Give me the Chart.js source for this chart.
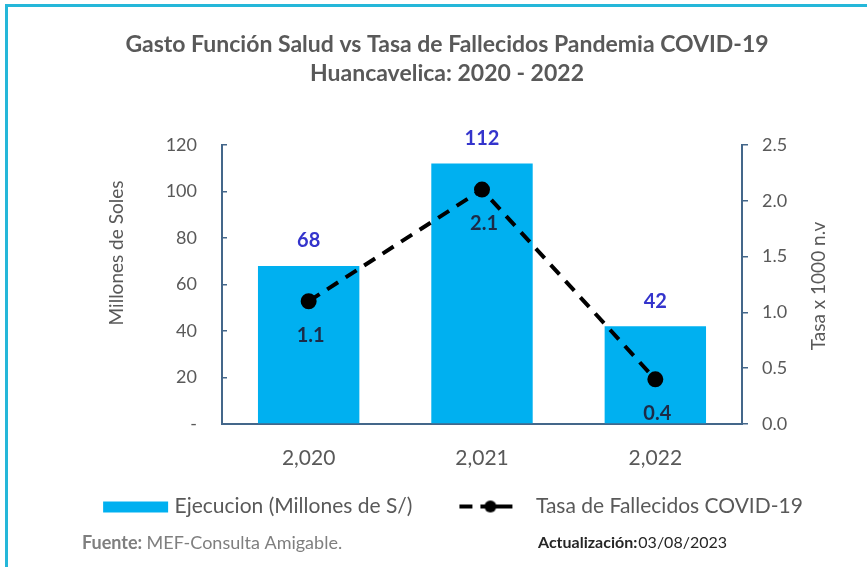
<!DOCTYPE html>
<html lang="es">
<head>
<meta charset="UTF-8">
<meta name="viewport" content="width=device-width, initial-scale=1.0">
<title>Gasto Función Salud vs Tasa de Fallecidos</title>
<script src="https://cdn.jsdelivr.net/npm/chart.js"></script>
<style>
    html, body {
        margin: 0;
        padding: 0;
        background: #fff;
        overflow: hidden;
    }

    #frame {
        position: absolute;
        left: 5px;
        top: 4px;
        width: 1000px;
        height: 1000px;
        border: 3px solid #25b7d9;
    }

    #wrap {
        position: absolute;
        left: 0;
        top: 0;
        width: 867px;
        height: 567px;
    }
</style>
</head>
<body>
<div id="frame"></div>
<div id="wrap"><canvas id="gastoChart"></canvas></div>

<script>
    // Data
    const years = ['2,020', '2,021', '2,022'];
    const gasto = [68, 112, 42];          // Millones de soles
    const tasa = [1.1, 2.1, 0.4];         // Tasa x 1000 n.v

    const FONT = 'Lato, "Open Sans", sans-serif';
    const GRAY = '#595959';
    const AXIS = '#44678a';
    const BLUE = '#00B0F0';

    // small canvases used as legend symbols
    // (drawn 5px wider than the legend box, blank part on the left = gap between items)
    function legendIcon(kind) {
        const c = document.createElement('canvas');
        c.width = 101;
        c.height = 14;
        const g = c.getContext('2d');
        if (kind === 'bar') {
            g.fillStyle = BLUE;
            g.fillRect(35, 2, 65, 11);
        } else {
            g.strokeStyle = '#000';
            g.fillStyle = '#000';
            g.lineWidth = 4;
            g.beginPath();
            g.moveTo(30, 7); g.lineTo(43, 7);
            g.moveTo(51, 7); g.lineTo(83, 7);
            g.stroke();
            g.beginPath();
            g.arc(61, 7, 6, 0, Math.PI * 2);
            g.fill();
        }
        return c;
    }

    // value labels, axis titles and footer
    const extras = {
        id: 'extras',
        afterLayout(chart) {
            // legend sits a little left of the centre in the original
            chart.legend.left -= 9;
            chart.legend.right -= 9;
        },
        afterDatasetsDraw(chart) {
            const g = chart.ctx;
            g.save();
            g.textAlign = 'center';
            g.textBaseline = 'middle';
            g.font = 'bold 20px ' + FONT;
            g.fillStyle = '#3434cc';
            chart.getDatasetMeta(0).data.forEach((bar, i) => {
                g.fillText(gasto[i], bar.x, bar.y - 25);
            });
            g.fillStyle = '#1c2b47';
            chart.getDatasetMeta(1).data.forEach((pt, i) => {
                g.fillText(tasa[i].toFixed(1), pt.x + 2, pt.y + 34);
            });
            g.restore();
        },
        afterDraw(chart) {
            const g = chart.ctx;
            g.save();
            g.fillStyle = GRAY;
            g.font = '19px ' + FONT;
            g.textAlign = 'center';
            g.textBaseline = 'middle';
            [['Millones de Soles', 117, 253], ['Tasa x 1000 n.v', 819, 286]].forEach(([t, x, y]) => {
                g.save();
                g.translate(x, y);
                g.rotate(-Math.PI / 2);
                g.fillText(t, 0, 0);
                g.restore();
            });

            // footer
            g.textAlign = 'left';
            g.fillStyle = '#7f7f7f';
            g.font = 'bold 18px ' + FONT;
            g.fillText('Fuente:', 82, 543);
            let w = g.measureText('Fuente: ').width;
            g.font = '18px ' + FONT;
            g.fillText('MEF-Consulta Amigable.', 82 + w, 543);

            g.fillStyle = '#262626';
            g.font = 'bold 16px ' + FONT;
            g.fillText('Actualización:', 538, 543);
            w = g.measureText('Actualización:').width;
            g.font = '16px ' + FONT;
            g.fillText('03/08/2023', 538 + w + 1, 543);
            g.restore();
        }
    };

    const ctx = document.getElementById('gastoChart').getContext('2d');
    new Chart(ctx, {
        data: {
            labels: years,
            datasets: [
                {
                    type: 'bar',
                    label: 'Ejecucion (Millones de S/)',
                    data: gasto,
                    backgroundColor: BLUE,
                    yAxisID: 'y',
                    order: 2,
                    categoryPercentage: 1,
                    barPercentage: 0.585
                },
                {
                    type: 'line',
                    label: 'Tasa de Fallecidos COVID-19',
                    data: tasa,
                    borderColor: '#000',
                    borderWidth: 4,
                    borderDash: [13, 9],
                    pointRadius: 6,
                    pointBackgroundColor: '#000',
                    pointBorderColor: '#000',
                    tension: 0,
                    yAxisID: 'y1',
                    order: 1
                }
            ]
        },
        options: {
            responsive: true,
            maintainAspectRatio: false,
            animation: false,
            layout: {
                padding: { left: 27, right: 0, top: 30, bottom: 40 }
            },
            plugins: {
                title: {
                    display: true,
                    text: ['Gasto Función Salud vs Tasa de Fallecidos Pandemia COVID-19', 'Huancavelica: 2020 - 2022'],
                    color: GRAY,
                    font: { family: FONT, size: 23, weight: 'bold', lineHeight: 1.26 },
                    padding: { top: 0, bottom: 57 }
                },
                legend: {
                    position: 'bottom',
                    labels: {
                        usePointStyle: true,
                        pointStyleWidth: 91,
                        padding: 22,
                        color: GRAY,
                        font: { family: FONT, size: 21 },
                        generateLabels: (chart) => chart.data.datasets.map((ds, i) => ({
                            text: ds.label,
                            pointStyle: legendIcon(ds.type),
                            fillStyle: ds.backgroundColor,
                            strokeStyle: ds.borderColor,
                            lineWidth: 0,
                            hidden: false,
                            fontColor: GRAY,
                            datasetIndex: i
                        }))
                    }
                },
                tooltip: { enabled: false }
            },
            scales: {
                x: {
                    grid: { display: false, drawTicks: false },
                    border: { display: true, color: AXIS, width: 2 },
                    ticks: { color: GRAY, font: { family: FONT, size: 21 }, padding: 22 },
                    afterFit: (s) => { s.height = 50; }
                },
                y: {
                    position: 'left',
                    min: 0,
                    max: 120,
                    ticks: {
                        stepSize: 20,
                        color: GRAY,
                        font: { family: FONT, size: 18 },
                        padding: 30,
                        callback: (v) => v === 0 ? '-' : v
                    },
                    grid: { drawOnChartArea: false, drawTicks: true, tickLength: -5, color: AXIS, lineWidth: 1.5 },
                    border: { color: AXIS, width: 2 },
                    afterFit: (s) => { s.width = 195; }
                },
                y1: {
                    position: 'right',
                    min: 0,
                    max: 2.5,
                    ticks: {
                        stepSize: 0.5,
                        color: GRAY,
                        font: { family: FONT, size: 18 },
                        padding: 14,
                        callback: (v) => Number(v).toFixed(1)
                    },
                    grid: { drawOnChartArea: false, drawTicks: true, tickLength: 6, color: AXIS, lineWidth: 1.5 },
                    border: { color: AXIS, width: 2 },
                    afterFit: (s) => { s.width = 125; }
                }
            }
        },
        plugins: [extras]
    });
</script>
</body>
</html>
